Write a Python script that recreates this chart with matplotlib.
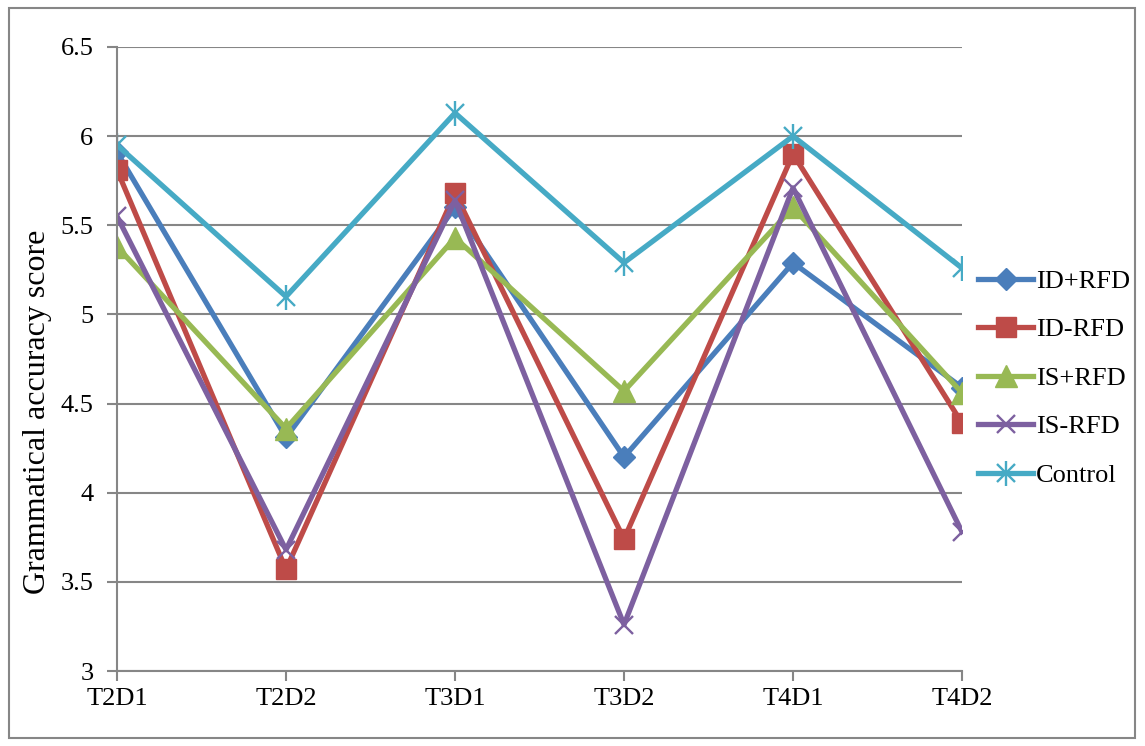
import matplotlib.pyplot as plt
from matplotlib.patches import Rectangle

# data
sessions = ["T2D1", "T2D2", "T3D1", "T3D2", "T4D1", "T4D2"]
id_plus_rfd = [5.91, 4.31, 5.60, 4.20, 5.29, 4.59]
id_minus_rfd = [5.81, 3.57, 5.68, 3.74, 5.90, 4.39]
is_plus_rfd = [5.38, 4.36, 5.43, 4.57, 5.60, 4.56]
is_minus_rfd = [5.55, 3.68, 5.64, 3.26, 5.71, 3.78]
control = [5.95, 5.10, 6.13, 5.29, 6.00, 5.26]

plt.rcParams['font.family'] = ['Liberation Serif', 'DejaVu Serif']

fig = plt.figure(figsize=(11.45, 7.46), dpi=100)
ax = fig.add_axes([0.1022, 0.1005, 0.7380, 0.8365])

x = list(range(len(sessions)))
grid_c = '#868686'

l1, = ax.plot(x, id_plus_rfd, color='#4A7EBB', lw=3.8, marker='D', ms=11)
l2, = ax.plot(x, id_minus_rfd, color='#BE4B48', lw=3.8, marker='s', ms=14)
l3, = ax.plot(x, is_plus_rfd, color='#98B954', lw=3.8, marker='^', ms=16)
l4, = ax.plot(x, is_minus_rfd, color='#7D60A0', lw=3.8, marker='x', ms=13, mew=1.7)
l5, = ax.plot(x, control, color='#46AAC5', lw=3.8, marker='x', ms=13, mew=1.7)
l5b, = ax.plot(x, control, color='#46AAC5', ls='none', marker='|', ms=18, mew=1.7)

ax.set_xlim(0, len(sessions) - 1)
ax.set_ylim(3, 6.5)
ax.set_xticks(x)
ax.set_xticklabels(sessions)
ax.set_yticks([3, 3.5, 4, 4.5, 5, 5.5, 6, 6.5])
ax.set_yticklabels(['3', '3.5', '4', '4.5', '5', '5.5', '6', '6.5'])
ax.tick_params(axis='both', labelsize=19, colors=grid_c, labelcolor='black',
               length=7, width=1.5, direction='out')
ax.tick_params(axis='x', pad=5)
ax.tick_params(axis='y', pad=10)
ax.grid(axis='y', color=grid_c, lw=1.5)
ax.set_axisbelow(True)
for s in ['top', 'right']:
    ax.spines[s].set_visible(False)
for s in ['left', 'bottom']:
    ax.spines[s].set_color(grid_c)
    ax.spines[s].set_linewidth(1.5)

ax.set_ylabel('Grammatical accuracy score', fontsize=23)
ax.yaxis.set_label_coords(-0.077, 0.415)

ax.legend([l1, l2, l3, l4, (l5, l5b)],
          ['ID+RFD', 'ID-RFD', 'IS+RFD', 'IS-RFD', 'Control'],
          loc='center left', bbox_to_anchor=(0.854, 0.493), bbox_transform=fig.transFigure,
          frameon=False, fontsize=19, handlelength=2.1, handletextpad=0.1,
          labelspacing=0.95, borderaxespad=0, borderpad=0)

fig.patches.append(Rectangle((9 / 1145, 8 / 746), 1 - 19 / 1145, 1 - 16 / 746,
                             transform=fig.transFigure, fill=False,
                             edgecolor=grid_c, lw=1.5))

fig.savefig('out.png', dpi=100)
